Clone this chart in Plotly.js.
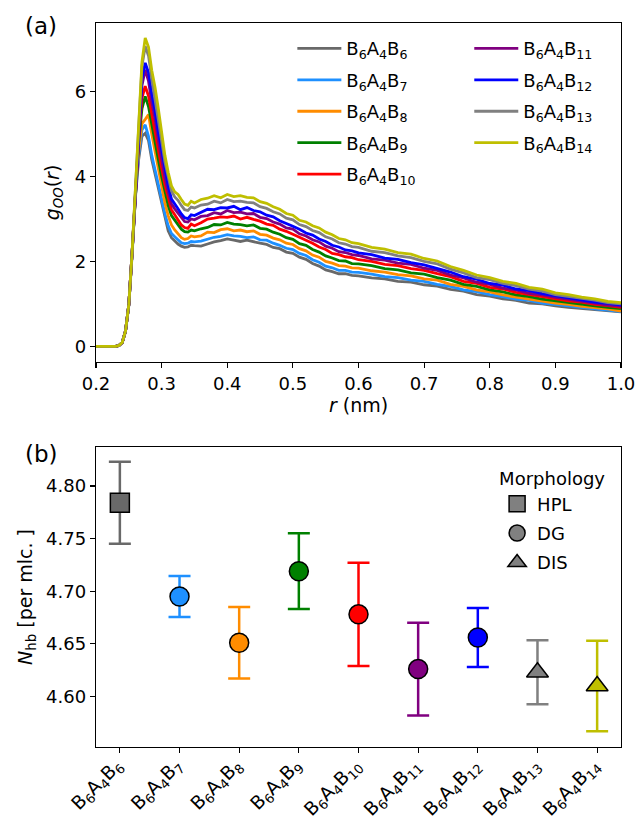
<!DOCTYPE html>
<html>
<head>
<meta charset="utf-8">
<script src="https://cdn.plot.ly/plotly-3.0.1.min.js"></script>
<style>
html,body{margin:0;padding:0;background:#fff;}
#chart{width:639px;height:819px;}
</style>
</head>
<body>
<div id="chart"></div>
<script>
// ---------- data: panel (a) radial distribution functions ----------
const r = [0.20,0.21,0.22,0.23,0.235,0.24,0.245,0.25,0.255,0.26,0.265,0.27,0.275,0.28,0.285,0.29,0.295,0.30,0.305,0.31,0.315,0.32,0.325,0.33,0.335,0.34,0.345,0.35,
  0.36,0.37,0.38,0.39,0.40,0.41,0.42,0.43,0.44,0.45,0.46,0.47,0.48,0.49,0.50,0.51,0.52,0.53,0.54,0.55,0.56,0.57,0.58,0.59,0.60,
  0.62,0.64,0.66,0.68,0.70,0.72,0.74,0.76,0.78,0.80,0.82,0.84,0.86,0.88,0.90,0.92,0.94,0.96,0.98,1.00];

const g_B6 = [0,0,0,0,0.02,0.08,0.35,0.96,2.15,3.5,4.4,4.95,5.02,4.85,4.4,4.05,3.7,3.38,3.02,2.72,2.56,2.48,2.41,2.36,2.33,2.34,2.38,2.37,
  2.36,2.41,2.46,2.49,2.53,2.50,2.47,2.50,2.46,2.43,2.40,2.33,2.30,2.22,2.19,2.10,2.05,1.95,1.89,1.80,1.76,1.71,1.71,1.67,1.66,
  1.61,1.59,1.53,1.51,1.45,1.42,1.34,1.30,1.22,1.18,1.12,1.08,1.02,1.00,0.95,0.92,0.89,0.86,0.83,0.81];
const g_B7 = [0,0,0,0,0.02,0.09,0.36,0.97,2.18,3.55,4.5,5.1,5.22,4.95,4.5,4.15,3.8,3.45,3.12,2.84,2.66,2.58,2.50,2.44,2.42,2.43,2.47,2.46,
  2.48,2.52,2.57,2.59,2.63,2.60,2.59,2.56,2.58,2.51,2.50,2.43,2.38,2.31,2.28,2.19,2.14,2.04,1.98,1.89,1.85,1.79,1.79,1.75,1.74,
  1.70,1.64,1.62,1.56,1.53,1.46,1.41,1.33,1.29,1.22,1.17,1.11,1.08,1.02,0.99,0.95,0.92,0.88,0.85,0.82];
const g_B8 = [0,0,0,0,0.02,0.09,0.36,0.98,2.2,3.6,4.6,5.25,5.35,5.46,5.0,4.6,4.15,3.75,3.38,3.08,2.86,2.74,2.64,2.56,2.52,2.54,2.60,2.58,
  2.60,2.69,2.68,2.75,2.77,2.72,2.74,2.70,2.72,2.64,2.62,2.55,2.51,2.43,2.40,2.30,2.25,2.15,2.10,2.00,1.96,1.90,1.89,1.85,1.84,
  1.78,1.75,1.69,1.66,1.59,1.56,1.46,1.41,1.33,1.28,1.21,1.16,1.11,1.07,1.02,0.99,0.94,0.91,0.88,0.83];
const g_B9 = [0,0,0,0,0.02,0.09,0.36,0.98,2.2,3.6,4.8,5.6,5.89,5.65,5.2,4.8,4.4,4.0,3.62,3.32,3.08,2.97,2.86,2.76,2.70,2.69,2.74,2.72,
  2.77,2.80,2.87,2.86,2.92,2.88,2.87,2.84,2.86,2.78,2.76,2.69,2.64,2.56,2.52,2.42,2.38,2.28,2.22,2.13,2.08,2.02,2.01,1.95,1.94,
  1.90,1.83,1.80,1.73,1.70,1.62,1.56,1.46,1.41,1.33,1.28,1.21,1.17,1.11,1.07,1.02,0.99,0.95,0.92,0.89];
const g_B10 = [0,0,0,0,0.02,0.09,0.36,0.98,2.2,3.6,4.9,5.85,6.13,5.9,5.45,5.05,4.6,4.2,3.80,3.48,3.22,3.10,2.98,2.86,2.80,2.78,2.88,2.84,
  2.91,3.00,3.02,3.05,3.04,3.07,3.00,3.04,2.99,2.95,2.88,2.85,2.76,2.71,2.64,2.57,2.49,2.43,2.34,2.28,2.19,2.16,2.11,2.09,2.04,
  2.00,1.93,1.90,1.83,1.79,1.71,1.64,1.53,1.48,1.39,1.35,1.27,1.22,1.16,1.12,1.07,1.04,0.99,0.96,0.92];
const g_B11 = [0,0,0,0,0.02,0.09,0.36,0.98,2.2,3.6,5.0,6.15,6.52,6.25,5.75,5.35,4.85,4.4,3.98,3.64,3.36,3.24,3.13,3.02,2.94,2.93,3.00,2.98,
  3.06,3.08,3.15,3.12,3.20,3.15,3.16,3.12,3.13,3.04,3.01,2.93,2.88,2.79,2.76,2.65,2.60,2.51,2.46,2.36,2.31,2.23,2.21,2.16,2.14,
  2.06,2.03,1.96,1.93,1.84,1.79,1.68,1.61,1.51,1.46,1.37,1.33,1.25,1.21,1.15,1.11,1.06,1.02,0.97,0.95];
const g_B12 = [0,0,0,0,0.02,0.09,0.36,0.98,2.2,3.6,5.1,6.3,6.68,6.45,5.95,5.55,5.05,4.6,4.15,3.78,3.47,3.34,3.24,3.12,3.03,3.01,3.10,3.08,
  3.15,3.23,3.22,3.27,3.26,3.30,3.22,3.27,3.20,3.17,3.09,3.05,2.96,2.90,2.83,2.76,2.67,2.62,2.53,2.47,2.38,2.34,2.27,2.25,2.20,
  2.16,2.08,2.05,1.97,1.92,1.83,1.75,1.64,1.58,1.48,1.44,1.35,1.31,1.24,1.19,1.13,1.09,1.04,1.01,0.97];
const g_B13 = [0,0,0,0,0.02,0.09,0.36,0.98,2.2,3.6,5.2,6.6,7.07,6.85,6.3,5.85,5.35,4.85,4.35,3.98,3.66,3.52,3.44,3.32,3.22,3.20,3.28,3.26,
  3.33,3.35,3.42,3.38,3.46,3.41,3.42,3.39,3.38,3.29,3.25,3.17,3.12,3.02,2.98,2.87,2.82,2.73,2.68,2.58,2.53,2.44,2.41,2.35,2.33,
  2.24,2.21,2.13,2.09,2.00,1.94,1.82,1.73,1.62,1.57,1.48,1.43,1.35,1.30,1.22,1.18,1.13,1.09,1.03,1.00];
const g_B14 = [0,0,0,0,0.02,0.09,0.36,0.98,2.2,3.6,5.3,6.7,7.27,7.05,6.5,6.1,5.6,5.05,4.5,4.1,3.78,3.64,3.58,3.46,3.35,3.32,3.42,3.38,
  3.46,3.49,3.55,3.50,3.58,3.53,3.55,3.51,3.50,3.41,3.37,3.29,3.23,3.13,3.09,2.97,2.93,2.84,2.79,2.69,2.63,2.54,2.51,2.44,2.42,
  2.33,2.29,2.21,2.17,2.07,2.01,1.88,1.79,1.68,1.62,1.53,1.48,1.39,1.35,1.26,1.22,1.16,1.12,1.06,1.03];

// ---------- data: panel (b) hydrogen bonds ----------
const labels = ['B<sub>6</sub>A<sub>4</sub>B<sub>6</sub>','B<sub>6</sub>A<sub>4</sub>B<sub>7</sub>','B<sub>6</sub>A<sub>4</sub>B<sub>8</sub>',
  'B<sub>6</sub>A<sub>4</sub>B<sub>9</sub>','B<sub>6</sub>A<sub>4</sub>B<sub>10</sub>','B<sub>6</sub>A<sub>4</sub>B<sub>11</sub>',
  'B<sub>6</sub>A<sub>4</sub>B<sub>12</sub>','B<sub>6</sub>A<sub>4</sub>B<sub>13</sub>','B<sub>6</sub>A<sub>4</sub>B<sub>14</sub>'];
const nhb = [4.784, 4.695, 4.651, 4.719, 4.678, 4.626, 4.656, 4.623, 4.610];
const nhbErr = [0.039, 0.0195, 0.034, 0.036, 0.049, 0.044, 0.028, 0.0305, 0.043];
const morphology = ['HPL','DG','DG','DG','DG','DG','DG','DIS','DIS'];
const morphNames = ['HPL','DG','DIS'];

// ---------- styles ----------
const colors = ['#696969','#1E90FF','#FF8C00','#008000','#FF0000','#800080','#0000FF','#808080','#BFBF00'];
const morphSymbol = {HPL:'square', DG:'circle', DIS:'triangle-up'};
const gSeries = [g_B6,g_B7,g_B8,g_B9,g_B10,g_B11,g_B12,g_B13,g_B14];
const FONT = 'DejaVu Sans, Arial, sans-serif';

const traces = [];
gSeries.forEach((g, i) => {
  traces.push({
    type:'scatter', mode:'lines', x:r, y:g, name:labels[i],
    line:{color:colors[i], width:2.8},
    xaxis:'x', yaxis:'y',
    legend: i < 5 ? 'legend' : 'legend2',
    legendgroup: 'g'+i
  });
});
nhb.forEach((v, i) => {
  traces.push({
    type:'scatter', mode:'markers', x:[i], y:[v],
    error_y:{type:'data', array:[nhbErr[i]], visible:true, color:colors[i], thickness:2.5, width:11},
    marker:{symbol:morphSymbol[morphology[i]], size:19, color:colors[i], line:{color:'#000', width:1.5}},
    xaxis:'x2', yaxis:'y2', showlegend:false, hoverinfo:'y'
  });
});
morphNames.forEach((m, k) => {
  traces.push({
    type:'scatter', mode:'markers', x:[null], y:[null], name:m,
    marker:{symbol:morphSymbol[m], size:17, color:'#808080', line:{color:'#000', width:1.5}},
    xaxis:'x2', yaxis:'y2', legend:'legend3', legendgroup:'m'+k
  });
});

function axisBase(fontSize) {
  return {
    ticks:'outside', ticklen:5, tickwidth:1.2, tickcolor:'#000',
    showline:true, mirror:true, linecolor:'#000', linewidth:1.2,
    showgrid:false, zeroline:false, automargin:false,
    tickfont:{family:FONT, size:fontSize, color:'#000'}
  };
}

const layout = {
  width:639, height:819,
  margin:{l:96, r:18, t:23, b:72},
  paper_bgcolor:'#fff', plot_bgcolor:'#fff',
  font:{family:FONT, size:18, color:'#000'},
  showlegend:true,
  xaxis: Object.assign(axisBase(18), {
    domain:[0,1], anchor:'y', range:[0.2,1.0], tick0:0.2, dtick:0.1, tickformat:'.1f',
    title:{text:'<i>r</i> (nm)', font:{family:FONT, size:19}, standoff:6}
  }),
  yaxis: Object.assign(axisBase(18), {
    domain:[0.5318,1], anchor:'x', range:[-0.37,7.62], tickvals:[0,2,4,6],
    title:{text:'<i>g</i><sub><i>OO</i></sub>(<i>r</i>)', font:{family:FONT, size:19}, standoff:10}
  }),
  xaxis2: Object.assign(axisBase(18.5), {
    domain:[0,1], anchor:'y2', range:[-0.4,8.4],
    tickvals:[0,1,2,3,4,5,6,7,8], ticktext:labels, tickangle:-45,
    ticklabelstandoff:-6, ticklabelshift:-3
  }),
  yaxis2: Object.assign(axisBase(18), {
    domain:[0,0.4144], anchor:'x2', range:[4.552,4.837],
    tickvals:[4.60,4.65,4.70,4.75,4.80], tickformat:'.2f',
    title:{text:'<i>N</i><sub>hb</sub> [per mlc. ]', font:{family:FONT, size:19}, standoff:8}
  }),
  legend:{x:0.374, y:0.990, xanchor:'left', yanchor:'top', bgcolor:'rgba(0,0,0,0)',
    font:{family:FONT, size:18}, traceorder:'grouped', tracegroupgap:5, itemwidth:44},
  legend2:{x:0.711, y:0.990, xanchor:'left', yanchor:'top', bgcolor:'rgba(0,0,0,0)',
    font:{family:FONT, size:18}, traceorder:'grouped', tracegroupgap:5, itemwidth:44},
  legend3:{x:0.764, y:0.3936, xanchor:'left', yanchor:'top', bgcolor:'rgba(0,0,0,0)',
    font:{family:FONT, size:18}, traceorder:'grouped', tracegroupgap:3,
    title:{text:'Morphology', font:{family:FONT, size:18}}},
  annotations:[
    {text:'(a)', xref:'paper', yref:'paper', x:-0.139, y:0.9959, xanchor:'left', yanchor:'middle',
     showarrow:false, font:{family:FONT, size:23}},
    {text:'(b)', xref:'paper', yref:'paper', x:-0.139, y:0.4047, xanchor:'left', yanchor:'middle',
     showarrow:false, font:{family:FONT, size:23}}
  ]
};

Plotly.newPlot('chart', traces, layout, {displayModeBar:false, staticPlot:true});
</script>
</body>
</html>
